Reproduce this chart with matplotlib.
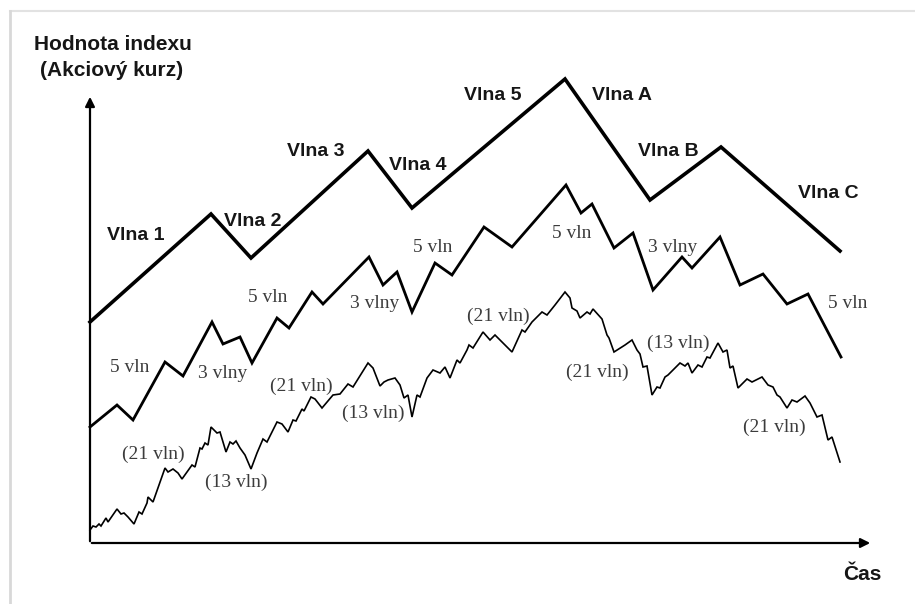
import matplotlib
matplotlib.use("Agg")
import matplotlib.pyplot as plt
from matplotlib.lines import Line2D

# Elliott wave diagram: time on x, index value on y (units)

# main cycle (1-2-3-4-5, A-B-C)
main_t = [0, 121, 161, 278, 322, 475, 560, 631, 750]
main_v = [221, 329, 285, 392, 335, 464, 343, 396, 292]

# intermediate degree
mid_t = [0, 27, 43, 75, 93, 122, 133, 150, 162, 187, 199, 222, 233, 279, 293, 307, 322, 345,
         362, 394, 422, 476, 491, 502, 524, 543, 563, 592, 602, 630, 650, 673, 697, 718, 751]
mid_v = [116, 138, 123, 181, 167, 221, 199, 206, 180, 225, 215, 251, 239, 286, 258, 271, 231, 280,
         268, 316, 296, 358, 330, 339, 295, 310, 253, 286, 275, 306, 258, 269, 239, 249, 186]

# minor degree
minor_t = [0, 3, 6, 9, 11, 16, 18, 27, 31, 34,
           38, 44, 49, 52, 57, 58, 63, 75, 78, 83,
           88, 92, 102, 105, 110, 112, 115, 118, 121, 127,
           130, 136, 140, 143, 146, 150, 155, 161, 167, 173,
           177, 187, 192, 198, 203, 206, 212, 214, 221, 225,
           232, 243, 250, 258, 263, 278, 283, 290, 294, 298,
           305, 310, 314, 318, 322, 327, 330, 337, 343, 350,
           355, 360, 367, 370, 377, 379, 383, 393, 400, 405,
           422, 432, 435, 442, 452, 457, 465, 475, 480, 482,
           487, 490, 497, 500, 503, 512, 517, 519, 524, 535,
           542, 547, 550, 553, 557, 562, 567, 570, 575, 578,
           590, 595, 598, 602, 608, 612, 617, 620, 628, 633,
           637, 640, 643, 648, 657, 662, 672, 678, 683, 687,
           690, 697, 702, 707, 715, 720, 727, 732, 738, 742, 750]
minor_v = [13, 17, 16, 19, 17, 25, 21, 34, 29, 30,
           26, 19, 31, 29, 40, 46, 41, 75, 71, 74,
           70, 64, 78, 76, 95, 94, 100, 98, 116, 110,
           111, 91, 101, 99, 102, 95, 88, 74, 90, 104,
           101, 121, 119, 111, 123, 122, 134, 132, 146, 144,
           135, 148, 149, 159, 156, 180, 175, 157, 161, 163,
           165, 158, 145, 148, 126, 148, 146, 165, 173, 170,
           176, 165, 183, 180, 193, 198, 195, 211, 203, 208,
           191, 213, 211, 221, 231, 228, 238, 251, 245, 235,
           232, 225, 231, 229, 234, 224, 208, 205, 191, 198,
           203, 193, 189, 176, 177, 148, 156, 155, 166, 168,
           180, 177, 180, 170, 178, 176, 186, 185, 200, 191,
           193, 175, 177, 155, 164, 161, 166, 158, 156, 148,
           146, 135, 143, 141, 147, 140, 126, 128, 103, 106, 81]

main_labels = ["Vlna 1", "Vlna 2", "Vlna 3", "Vlna 4", "Vlna 5", "Vlna A", "Vlna B", "Vlna C"]
mid_labels = ["5 vln", "3 vlny", "5 vln", "3 vlny", "5 vln", "5 vln", "3 vlny", "5 vln"]
minor_labels = ["(21 vln)", "(13 vln)", "(21 vln)", "(13 vln)",
                "(21 vln)", "(21 vln)", "(13 vln)", "(21 vln)"]

# label anchors
main_pos = [(46, 307), (163, 322), (226, 391), (328, 378), (403, 447), (532, 447), (578, 391), (738, 350)]
mid_pos = [(40, 176), (133, 170), (178, 245), (285, 240), (343, 296), (482, 309), (583, 295), (758, 240)]
minor_pos = [(63, 89), (146, 61), (211, 157), (283, 130), (408, 227), (507, 171), (588, 200), (684, 116)]

fig = plt.figure(figsize=(9.15, 6.04), dpi=100)
ax = fig.add_axes([0, 0, 1, 1])
ax.set_xlim(-90, 825)
ax.set_ylim(-61, 543)
ax.axis("off")

# page frame (screenshot edge)
fig.add_artist(Line2D([0.011, 1.0], [0.982, 0.982], color="#e2e2e2", lw=1.5))
fig.add_artist(Line2D([0.011, 0.011], [0.0, 0.982], color="#d8d8d8", lw=2))

# axes with arrows
ax.annotate("", xy=(0, 449), xytext=(0, -1),
            arrowprops=dict(arrowstyle="-|>", color="black", lw=1.6, mutation_scale=14))
ax.annotate("", xy=(783, 0), xytext=(-1, 0),
            arrowprops=dict(arrowstyle="-|>", color="black", lw=1.6, mutation_scale=14))

ax.plot(main_t, main_v, color="black", lw=2.6, solid_joinstyle="miter")
ax.plot(mid_t, mid_v, color="black", lw=2.0, solid_joinstyle="miter")
ax.plot(minor_t, minor_v, color="black", lw=1.2, solid_joinstyle="miter")

bold = dict(family="Liberation Sans", fontweight="bold", color="#161616")
serif = dict(family="Liberation Serif", color="#3c3c3c", fontsize=14)

for lab, (x, y) in zip(main_labels, main_pos):
    ax.text(x, y, lab, ha="center", va="center", fontsize=14, **bold)
for lab, (x, y) in zip(mid_labels, mid_pos):
    ax.text(x, y, lab, ha="center", va="center", **serif)
for lab, (x, y) in zip(minor_labels, minor_pos):
    ax.text(x, y, lab, ha="center", va="center", **serif)

ax.text(23, 499, "Hodnota indexu", ha="center", va="center", fontsize=15, **bold)
ax.text(22, 473, "(Akciový kurz)", ha="center", va="center", fontsize=15, **bold)
ax.text(772, -32, "Čas", ha="center", va="center", fontsize=15, **bold)

fig.savefig("out.png", dpi=100)
